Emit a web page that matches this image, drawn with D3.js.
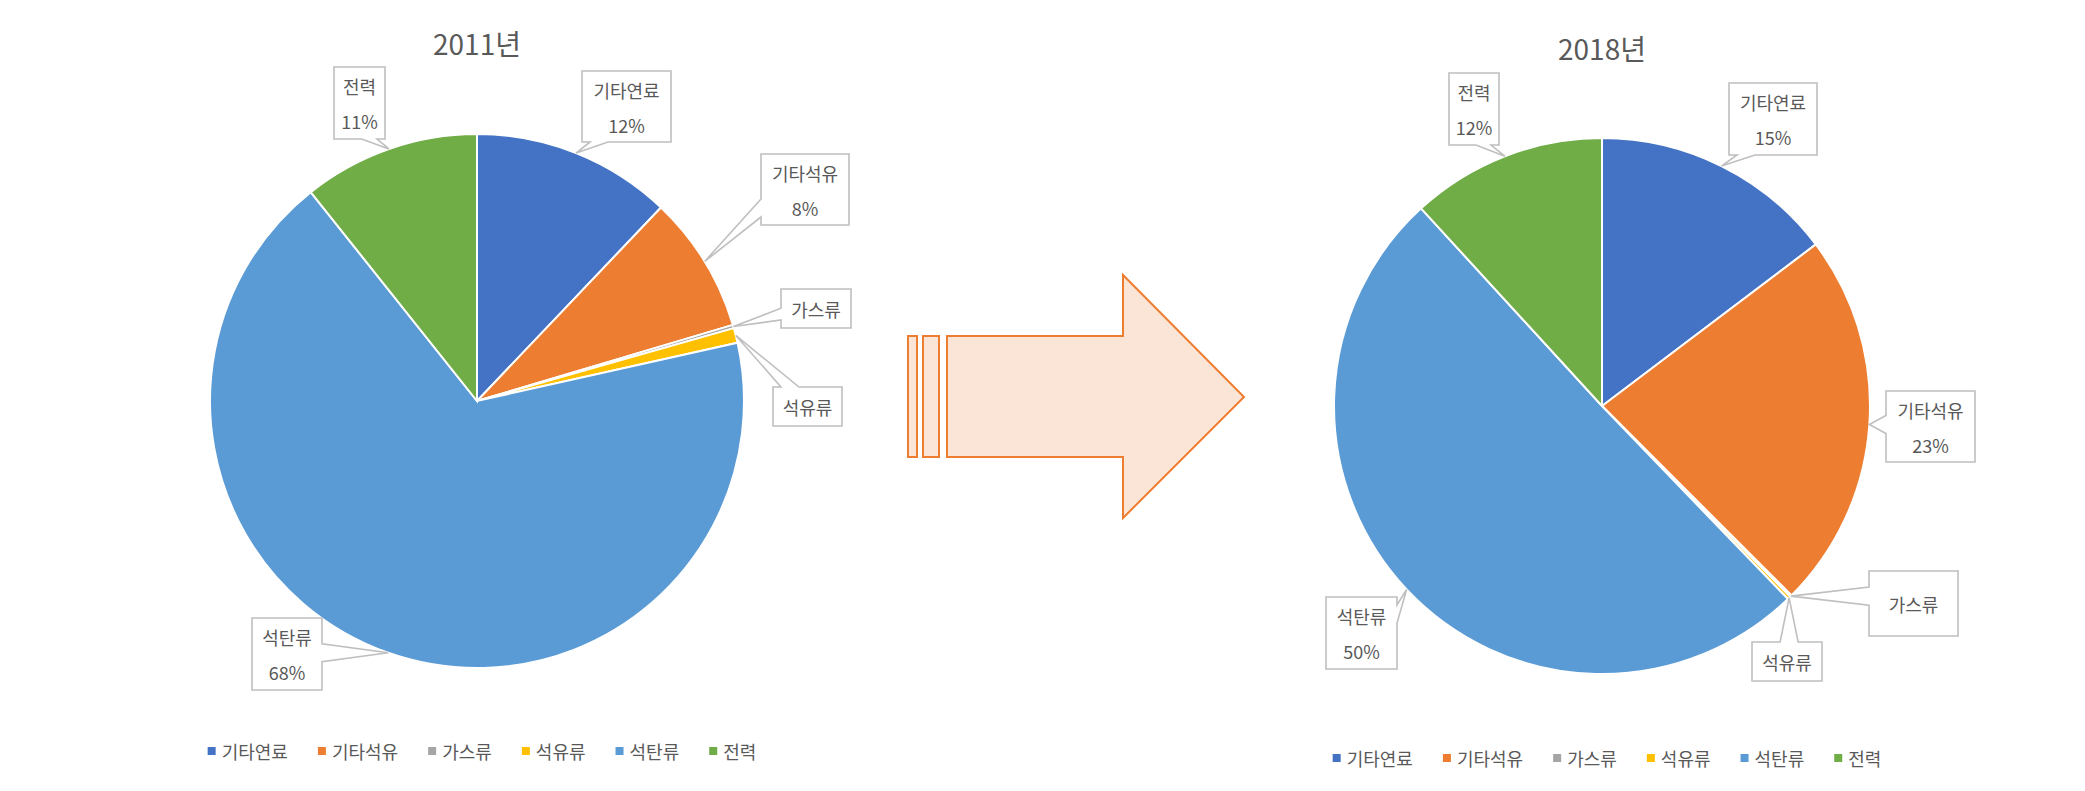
<!DOCTYPE html>
<html>
<head>
<meta charset="utf-8">
<script src="https://cdn.jsdelivr.net/npm/d3@7"></script>
<style>
  body { margin: 0; background: #fff; }
  text { font-family: "Noto Sans CJK KR", "Noto Sans", sans-serif; fill: #595959; }
</style>
</head>
<body>
<script>
// data
const categories = ['기타연료', '기타석유', '가스류', '석유류', '석탄류', '전력'];
const colors = ['#4472C4', '#ED7D31', '#A5A5A5', '#FFC000', '#5B9BD5', '#70AD47'];
const values2011 = [12.1, 8.3, 0.2, 0.9, 67.8, 10.7];
const values2018 = [14.7, 22.8, 0.1, 0.2, 50.4, 11.8];
const showPct = [true, true, false, false, true, true];
const titles = ['2011년', '2018년'];

// label box placement (x, y, w, h) per category
const boxes2011 = [[582, 71, 89, 71], [761, 154, 88, 71], [781, 289, 70, 39], [773, 387, 69, 39], [252, 618, 70, 72], [334, 67, 51, 72]];
const boxes2018 = [[1729, 83, 88, 72], [1886, 391, 89, 71], [1869, 571, 89, 65], [1752, 642, 70, 39], [1326, 597, 71, 72], [1449, 73, 50, 72]];

const width = 2085, height = 791;
const svg = d3.select('body').append('svg')
    .attr('width', width).attr('height', height);

const charts = [
  {title: titles[0], values: values2011, boxes: boxes2011, cx: 477, cy: 401, r: 267, legendY: 751},
  {title: titles[1], values: values2018, boxes: boxes2018, cx: 1602, cy: 406, r: 268, legendY: 758}
];

const pie = d3.pie().sort(null).value(d => d);

function calloutPath(b, tip) {
  const x0 = b[0], y0 = b[1], x1 = b[0] + b[2], y1 = b[1] + b[3];
  const dxo = tip[0] < x0 ? x0 - tip[0] : (tip[0] > x1 ? tip[0] - x1 : 0);
  const dyo = tip[1] < y0 ? y0 - tip[1] : (tip[1] > y1 ? tip[1] - y1 : 0);
  let side;
  if (dxo > dyo) side = tip[0] < x0 ? 'left' : 'right';
  else side = tip[1] < y0 ? 'top' : 'bottom';
  const m = 8;
  let pts;
  if (side === 'top' || side === 'bottom') {
    const nw = Math.min(18, b[2] * 0.3);
    const c = Math.max(x0 + m + nw / 2, Math.min(x1 - m - nw / 2, tip[0]));
    if (side === 'top') pts = [[x0, y0], [c - nw / 2, y0], tip, [c + nw / 2, y0], [x1, y0], [x1, y1], [x0, y1]];
    else pts = [[x0, y0], [x1, y0], [x1, y1], [c + nw / 2, y1], tip, [c - nw / 2, y1], [x0, y1]];
  } else {
    const nw = Math.min(18, b[3] * 0.3);
    const c = Math.max(y0 + m + nw / 2, Math.min(y1 - m - nw / 2, tip[1]));
    if (side === 'right') pts = [[x0, y0], [x1, y0], [x1, c - nw / 2], tip, [x1, c + nw / 2], [x1, y1], [x0, y1]];
    else pts = [[x0, y0], [x1, y0], [x1, y1], [x0, y1], [x0, c + nw / 2], tip, [x0, c - nw / 2]];
  }
  return 'M' + pts.map(p => p.join(',')).join('L') + 'Z';
}

charts.forEach(ch => {
  const arcs = pie(ch.values);
  const arc = d3.arc().innerRadius(0).outerRadius(ch.r);
  const rim = d3.arc().innerRadius(ch.r).outerRadius(ch.r);

  // title
  svg.append('text')
      .attr('x', ch.cx).attr('y', 43 + (ch.cy - 401))
      .attr('text-anchor', 'middle').attr('dominant-baseline', 'central')
      .style('font-size', '28px')
      .text(ch.title);

  const g = svg.append('g').attr('transform', 'translate(' + ch.cx + ',' + ch.cy + ')');
  g.selectAll('path.slice').data(arcs).enter().append('path')
      .attr('class', 'slice')
      .attr('d', arc)
      .attr('fill', (d, i) => colors[i])
      .attr('stroke', '#fff')
      .attr('stroke-width', 2);

  // data labels
  arcs.forEach((d, i) => {
    const c = rim.centroid(d);
    const tip = [c[0] + ch.cx, c[1] + ch.cy];
    const b = ch.boxes[i];
    svg.append('path')
        .attr('d', calloutPath(b, tip))
        .attr('fill', '#fff')
        .attr('stroke', '#BFBFBF')
        .attr('stroke-width', 1.6);
    const tx = b[0] + b[2] / 2;
    if (showPct[i]) {
      svg.append('text').attr('x', tx).attr('y', b[1] + 19)
          .attr('text-anchor', 'middle').attr('dominant-baseline', 'central')
          .style('font-size', '18px').text(categories[i]);
      svg.append('text').attr('x', tx).attr('y', b[1] + 54)
          .attr('text-anchor', 'middle').attr('dominant-baseline', 'central')
          .style('font-size', '18px').text(Math.round(d.data) + '%');
    } else {
      svg.append('text').attr('x', tx).attr('y', b[1] + b[3] / 2)
          .attr('text-anchor', 'middle').attr('dominant-baseline', 'central')
          .style('font-size', '18px').text(categories[i]);
    }
  });

  // legend
  const lg = svg.append('g');
  const gap = 30;
  let x = 0;
  categories.forEach((name, i) => {
    const item = lg.append('g').attr('transform', 'translate(' + x + ',0)');
    item.append('rect').attr('x', 0).attr('y', -4).attr('width', 8).attr('height', 8)
        .attr('fill', colors[i]);
    const t = item.append('text').attr('x', 14).attr('y', 0)
        .attr('dominant-baseline', 'central')
        .style('font-size', '18px').text(name);
    x += 14 + t.node().getComputedTextLength() + gap;
  });
  const total = x - gap;
  lg.attr('transform', 'translate(' + (ch.cx + 5 - total / 2) + ',' + ch.legendY + ')');
});

// arrow between the two charts
const arrowG = svg.append('g')
    .attr('fill', '#FBE5D6').attr('stroke', '#ED7D31').attr('stroke-width', 2);
arrowG.append('rect').attr('x', 908).attr('y', 336).attr('width', 9).attr('height', 121);
arrowG.append('rect').attr('x', 923).attr('y', 336).attr('width', 16).attr('height', 121);
arrowG.append('path')
    .attr('d', 'M947,336L1123,336L1123,275L1244,397L1123,518L1123,457L947,457Z');
</script>
</body>
</html>
